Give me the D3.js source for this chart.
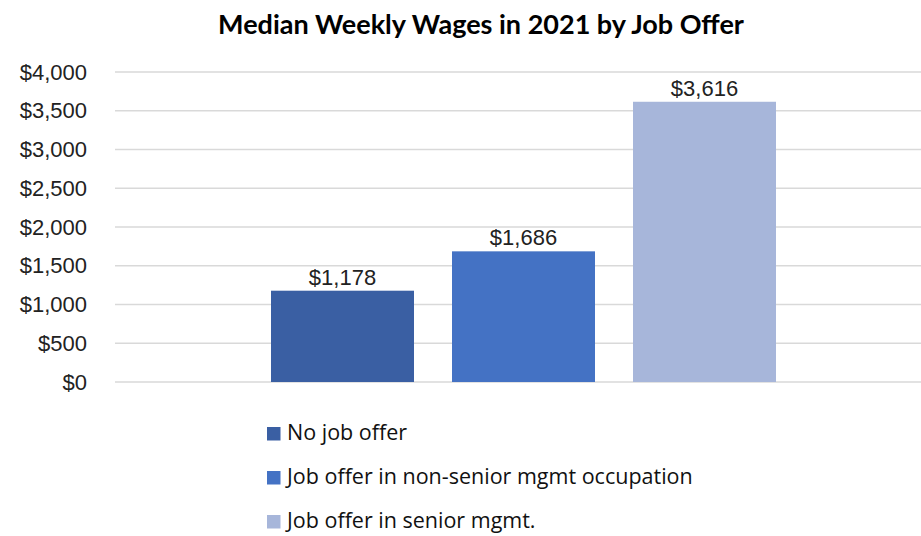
<!DOCTYPE html>
<html><head><meta charset="utf-8">
<script src="https://cdn.jsdelivr.net/npm/d3@7"></script>
<style>body{margin:0;background:#fff}</style>
</head><body>
<svg id="c" width="921" height="536"></svg>
<script>
const seriesNames = ["No job offer", "Job offer in non-senior mgmt occupation", "Job offer in senior mgmt."];
const seriesValues = [1178, 1686, 3616];
const seriesColors = ["#3a5fa3", "#4472c4", "#a7b6da"];
const yTicks = [0, 500, 1000, 1500, 2000, 2500, 3000, 3500, 4000];
const title = "Median Weekly Wages in 2021 by Job Offer";

const svg = d3.select("#c");
const fmt = v => "$" + d3.format(",")(v);

const y = d3.scaleLinear().domain([0, 4000]).range([382, 72]);
const x = d3.scaleBand().domain(seriesNames).range([271, 776]).paddingInner(0.21).paddingOuter(0);

// gridlines
svg.append("g").selectAll("line").data(yTicks).join("line")
  .attr("x1", 115).attr("x2", 921)
  .attr("y1", d => y(d)).attr("y2", d => y(d))
  .attr("stroke", "#d9d9d9").attr("stroke-width", 1.5);

// y axis labels
const yAxis = d3.axisLeft(y).tickValues(yTicks).tickFormat(fmt).tickSize(0).tickPadding(0);
const ga = svg.append("g").attr("transform", "translate(87,0)").call(yAxis);
ga.select(".domain").remove();
ga.selectAll("text").attr("font-family", "'Liberation Sans', Arial, sans-serif")
  .attr("font-size", 22).attr("fill", "#222");

// bars
svg.append("g").selectAll("rect").data(seriesValues).join("rect")
  .attr("x", (d, i) => x(seriesNames[i]))
  .attr("width", x.bandwidth())
  .attr("y", d => y(d))
  .attr("height", d => y(0) - y(d))
  .attr("fill", (d, i) => seriesColors[i]);

// data labels
svg.append("g").selectAll("text").data(seriesValues).join("text")
  .attr("x", (d, i) => x(seriesNames[i]) + x.bandwidth() / 2)
  .attr("y", d => y(d) - 6)
  .attr("text-anchor", "middle")
  .attr("font-family", "'Liberation Sans', Arial, sans-serif")
  .attr("font-size", 22).attr("fill", "#222")
  .text(fmt);

// title
svg.append("text").attr("x", 481).attr("y", 34).attr("text-anchor", "middle")
  .attr("font-family", "Lato, 'Open Sans', sans-serif").attr("font-weight", "bold")
  .attr("font-size", 27).attr("fill", "#000").text(title);

// legend
const lg = svg.append("g").selectAll("g").data(seriesNames).join("g")
  .attr("transform", (d, i) => `translate(267,${440 + i * 44})`);
lg.append("rect").attr("x", 0).attr("y", -13).attr("width", 13.5).attr("height", 13.5)
  .attr("fill", (d, i) => seriesColors[i]);
lg.append("text").attr("x", 20).attr("y", 0)
  .attr("font-family", "'Open Sans', sans-serif").attr("font-size", 21.5).attr("fill", "#111")
  .text(d => d);
</script>
</body></html>
